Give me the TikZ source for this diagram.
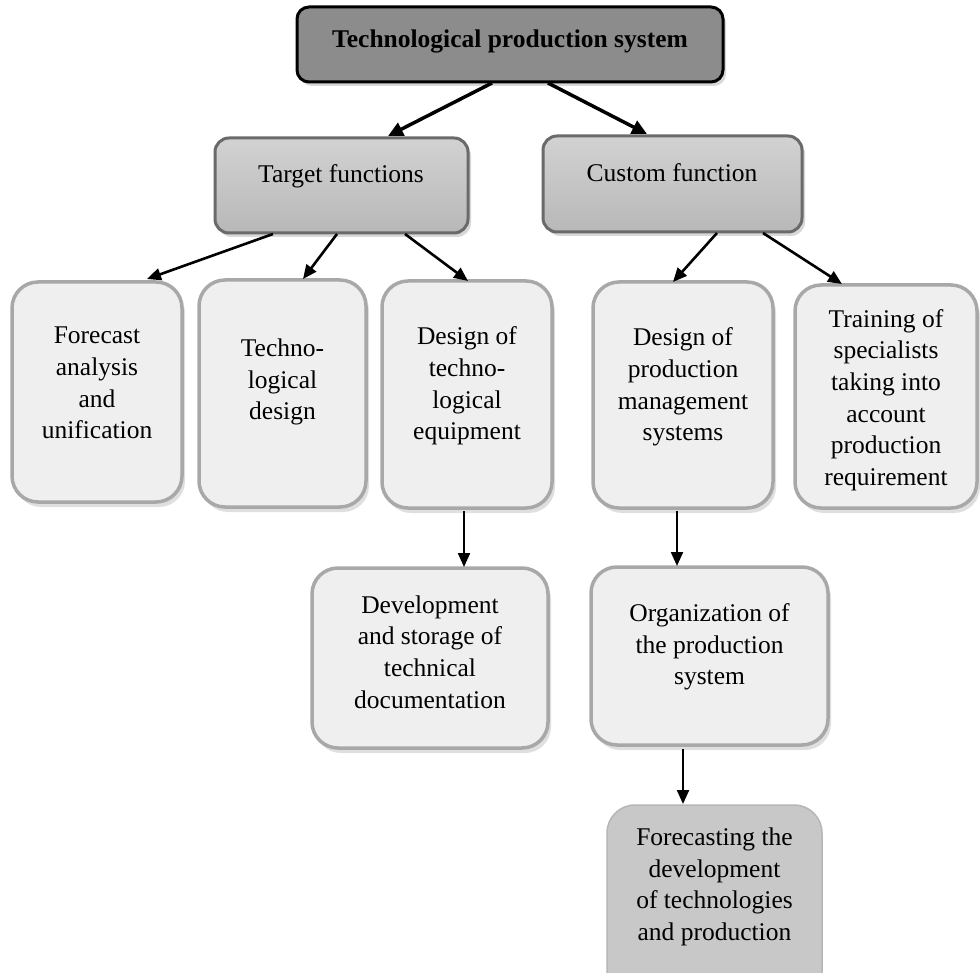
\documentclass[tikz,border=0pt]{standalone}
\usepackage{fontspec}
\setmainfont{Liberation Serif}
\usetikzlibrary{arrows.meta,shadows,fit}
\definecolor{topfill}{HTML}{8C8C8C}
\definecolor{midtop}{HTML}{D2D2D2}
\definecolor{midbot}{HTML}{B8B8B8}
\definecolor{midedge}{HTML}{6A6A6A}
\definecolor{lowfill}{HTML}{EFEFEF}
\definecolor{lowedge}{HTML}{A8A8A8}
\definecolor{fcfill}{HTML}{C8C8C8}
\definecolor{fcedge}{HTML}{B6B6B6}
\tikzset{
  boxbase/.style={inner sep=0pt, outer sep=0pt},
  topbox/.style={boxbase, draw=black, line width=3pt, fill=topfill, rounded corners=12pt,
    drop shadow={opacity=0.3, shadow xshift=3pt, shadow yshift=-4pt}},
  midbox/.style={boxbase, draw=midedge, line width=3pt, top color=midtop, bottom color=midbot, rounded corners=14pt,
    drop shadow={opacity=0.3, shadow xshift=3pt, shadow yshift=-4pt}},
  lowbox/.style={boxbase, draw=lowedge, line width=3.5pt, fill=lowfill, rounded corners=26pt,
    drop shadow={opacity=0.25, shadow xshift=3pt, shadow yshift=-5pt}},
  fcbox/.style={boxbase, draw=fcedge, line width=1.5pt, fill=fcfill, rounded corners=28pt},
  txt/.style={align=center, inner sep=0pt, font={\fontsize{25.5}{31.7}\selectfont}},
  bigarrow/.style={line width=3.5pt, -{Triangle[length=15pt,width=14pt]}},
  midarrow/.style={line width=2.6pt, -{Triangle[length=14pt,width=12pt]}},
  vertarrow/.style={line width=2.2pt, -{Triangle[length=14pt,width=12pt]}},
}
\begin{document}
\begin{tikzpicture}[x=1pt,y=-1pt]
\useasboundingbox (0,0) rectangle (980,973);
\clip (0,0) rectangle (980,973);
\fill[white] (0,0) rectangle (980,973);

% boxes
\node[topbox, fit={(297,7) (723,82)}] (top) {};
\node[midbox, fit={(215,138) (468,233)}] (tgt) {};
\node[midbox, fit={(543,136) (802,232)}] (cus) {};
\node[lowbox, fit={(12,282) (182,502)}] (fa) {};
\node[lowbox, fit={(199,280) (366,507)}] (td) {};
\node[lowbox, fit={(382,281) (552,508)}] (de) {};
\node[lowbox, fit={(593,282) (773,508)}] (dp) {};
\node[lowbox, fit={(795,285) (977,508)}] (tr) {};
\node[lowbox, fit={(312,568) (548,748)}] (dev) {};
\node[lowbox, fit={(591,567) (828,745)}] (org) {};
\node[fcbox, fit={(607,805) (822,1000)}] (fc) {};

% texts
\node[txt, font={\fontsize{25.5}{31.7}\selectfont\bfseries}] (ttop) at (510,41) {Technological production system};
\node[txt] (ttgt) at (341,176) {Target functions};
\node[txt] (tcus) at (672,173) {Custom function};
\node[txt] (tfa) at (97,383) {Forecast\\analysis\\and\\unification};
\node[txt] (ttd) at (282.5,382) {Techno-\\logical\\design};
\node[txt] (tde) at (467,386) {Design of\\techno-\\logical\\equipment};
\node[txt] (tdp) at (683,387) {Design of\\production\\management\\systems};
\node[txt] (ttr) at (886,400) {Training of\\specialists\\taking into\\account\\production\\requirement};
\node[txt] (tdev) at (430,652) {Development\\and storage of\\technical\\documentation};
\node[txt] (torg) at (709.5,647) {Organization of\\the production\\system};
\node[txt] (tfc) at (714.5,887) {Forecasting the\\development\\of technologies\\and production};

% connectors
\draw[bigarrow] ([xshift=195pt,yshift=-1pt]top.south west) -- ([xshift=173pt,yshift=2pt]tgt.north west);
\draw[bigarrow] ([xshift=251pt,yshift=-1pt]top.south west) -- ([xshift=104pt,yshift=2pt]cus.north west);
\draw[midarrow] ([xshift=58pt,yshift=-1pt]tgt.south west) -- ([xshift=135pt,yshift=3pt]fa.north west);
\draw[midarrow] ([xshift=122pt,yshift=-1pt]tgt.south west) -- ([xshift=104pt,yshift=1pt]td.north west);
\draw[midarrow] ([xshift=190pt,yshift=-1pt]tgt.south west) -- ([xshift=86pt,yshift=0pt]de.north west);
\draw[midarrow] ([xshift=174pt,yshift=-1pt]cus.south west) -- ([xshift=80pt,yshift=0pt]dp.north west);
\draw[midarrow] ([xshift=220pt,yshift=-1pt]cus.south west) -- ([xshift=47pt,yshift=1pt]tr.north west);
\draw[vertarrow] ([xshift=82pt,yshift=-3pt]de.south west) -- ([xshift=152pt,yshift=1pt]dev.north west);
\draw[vertarrow] ([xshift=84pt,yshift=-3pt]dp.south west) -- ([xshift=86pt,yshift=1pt]org.north west);
\draw[vertarrow] ([xshift=92pt,yshift=-4pt]org.south west) -- ([xshift=76pt,yshift=1pt]fc.north west);
\end{tikzpicture}
\end{document}
